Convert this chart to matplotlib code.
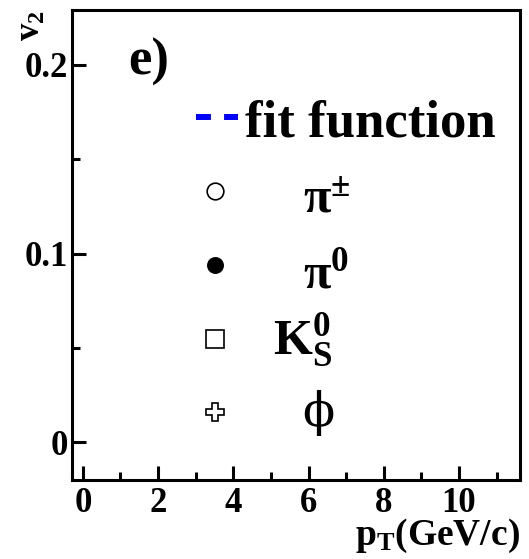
"""
Empty v2 panel e) with legend of particle species.
"""
import matplotlib
matplotlib.use('Agg')
import matplotlib.pyplot as plt
from matplotlib.ticker import MultipleLocator

plt.rcParams['font.family'] = ['Liberation Serif', 'DejaVu Serif']
plt.rcParams['font.weight'] = 'bold'
plt.rcParams['mathtext.fontset'] = 'custom'
plt.rcParams['mathtext.rm'] = 'Liberation Serif'
plt.rcParams['mathtext.it'] = 'Liberation Serif:italic'
plt.rcParams['mathtext.bf'] = 'Liberation Serif:bold'

# axis ranges and ticks
x_lim = (-0.29, 11.62)
y_lim = (-0.020, 0.229)
x_major = [0, 2, 4, 6, 8, 10]
y_major = [0, 0.1, 0.2]
x_tick_labels = ['0', '2', '4', '6', '8', '10']
y_tick_labels = ['0', '0.1', '0.2']

# legend entries
species = [r'$\mathrm{\pi}^{\pm}$', r'$\mathrm{\pi}^{\mathbf{0}}$',
           r'$\mathbf{K}_{\mathbf{S}}^{\mathbf{0}}$', '\u03d5']
markers = ['o', 'o', 's', 'P']
faces = ['white', 'black', 'white', 'white']
msizes = [12, 11, 13.5, 13]

fig = plt.figure(figsize=(5.29, 5.59), dpi=100)
ax = fig.add_axes([0.136, 0.1413, 0.847, 0.8407])
ax.set_xlim(*x_lim)
ax.set_ylim(*y_lim)

for s in ax.spines.values():
    s.set_linewidth(2.2)

ax.set_xticks(x_major)
ax.set_xticklabels(x_tick_labels)
ax.set_yticks(y_major)
ax.set_yticklabels(y_tick_labels)
ax.xaxis.set_minor_locator(MultipleLocator(1))
ax.yaxis.set_minor_locator(MultipleLocator(0.05))
ax.tick_params(which='both', direction='in', top=False, right=False,
               width=2.2, labelsize=25)
ax.tick_params(which='major', length=10)
ax.tick_params(which='minor', length=5.5)
ax.tick_params(axis='x', pad=5)
ax.tick_params(axis='y', pad=3)

ax.set_ylabel(r'$\mathbf{v}_{\mathbf{2}}$', fontsize=25, loc='top')
ax.yaxis.set_label_coords(-0.054, 1.0)
ax.set_xlabel(r'$\mathbf{p}_{\mathbf{T}}\mathbf{(GeV/c)}$', fontsize=27,
              loc='right')
ax.xaxis.set_label_coords(1.0, -0.079)

ax.text(0.125, 0.862, 'e)', transform=ax.transAxes, fontsize=38,
        fontweight='bold', va='baseline')

# fit function entry
ax.plot([0.277, 0.371], [0.772, 0.772], transform=ax.transAxes,
        color='blue', linestyle=(0, (2.5, 2.2)), linewidth=4.3,
        dash_capstyle='butt')
ax.text(0.386, 0.730, 'fit function', transform=ax.transAxes, fontsize=38,
        fontweight='bold', va='baseline')

# species entries
ym = [0.615, 0.457, 0.300, 0.145]
yt = [0.570, 0.409, 0.266, 0.143]
xt = [0.515, 0.515, 0.448, 0.515]
for i, lab in enumerate(species):
    ax.plot([0.319], [ym[i]], transform=ax.transAxes, marker=markers[i],
            markersize=msizes[i], markerfacecolor=faces[i],
            markeredgecolor='black', markeredgewidth=1.2, linestyle='none')
    if i == 3:
        ax.text(xt[i], yt[i], lab, transform=ax.transAxes, fontsize=34,
                fontweight='normal', va='center', ha='left',
                family=['DejaVu Serif'])
    else:
        ax.text(xt[i], yt[i], lab, transform=ax.transAxes, fontsize=36,
                va='baseline', ha='left')

fig.savefig('out.png', dpi=100)
